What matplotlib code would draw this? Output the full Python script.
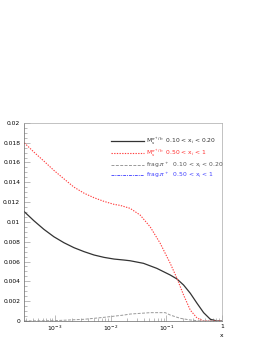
import numpy as np
import matplotlib
matplotlib.use("Agg")
import matplotlib.pyplot as plt
from matplotlib.ticker import LogLocator, MultipleLocator, NullFormatter, FuncFormatter

# curves (log10 x, value)
logx_black = [-3.55, -3.378, -3.198, -3.018, -2.838, -2.658, -2.477, -2.297, -2.117, -1.937,
              -1.757, -1.649, -1.409, -1.168, -0.928, -0.807, -0.688, -0.568, -0.447, -0.328,
              -0.207, -0.086, 0.0]
y_black = [0.01103, 0.01012, 0.00925, 0.0085, 0.0079, 0.0074, 0.0070, 0.00666, 0.00642, 0.00625,
           0.00615, 0.00608, 0.00582, 0.00531, 0.00464, 0.00424, 0.00363, 0.0028, 0.00179, 0.00084,
           0.00017, 0.0, 0.0]

logx_red = [-3.55, -3.378, -3.198, -3.018, -2.838, -2.658, -2.477, -2.297, -2.117, -1.937,
            -1.829, -1.649, -1.468, -1.288, -1.108, -0.928, -0.807, -0.688, -0.568, -0.447,
            -0.328, 0.0]
y_red = [0.01798, 0.01705, 0.01614, 0.0152, 0.01435, 0.01351, 0.0129, 0.01244, 0.01207, 0.01177,
         0.01167, 0.01137, 0.01069, 0.0095, 0.00784, 0.00582, 0.0043, 0.00262, 0.0011, 0.0003,
         0.0, 0.0]

logx_gray = [-3.55, -3.018, -2.477, -2.117, -1.757, -1.649, -1.288, -1.018, -0.928, -0.748,
             -0.568, -0.387, 0.0]
y_gray = [0.0, 0.00003, 0.00017, 0.00037, 0.0006, 0.0007, 0.00084, 0.00084, 0.0006, 0.00027,
          0.0001, 0.0, 0.0]

logx_blue = [-3.55, 0.0]
y_blue = [0.00002, 0.00002]

labels = [r"M$_s^{\pi^+/h}$  0.10 < x$_i$ < 0.20",
          r"M$_s^{\pi^+/h}$  0.50 < x$_i$ < 1",
          r"frag.$\pi^+$  0.10 < x$_i$ < 0.20",
          r"frag.$\pi^+$  0.50 < x$_i$ < 1"]

plt.rcParams['font.family'] = ['DejaVu Sans']
fig = plt.figure(figsize=(2.67, 3.46), dpi=100)
ax = fig.add_axes([0.091, 0.0723, 0.740, 0.5727])

fs = 4.3
ax.plot(10 ** np.array(logx_black), y_black, color='#333333', lw=0.9, ls='-', label=labels[0])
ax.plot(10 ** np.array(logx_red), y_red, color='#ff4040', lw=0.8, ls=(0, (1.2, 1.2)), label=labels[1])
ax.plot(10 ** np.array(logx_gray), y_gray, color='#999999', lw=0.7, ls=(0, (3, 1.5)), label=labels[2])
ax.plot(10 ** np.array(logx_blue), y_blue, color='#5555ff', lw=0.7, ls=(0, (3, 1, 1, 1)), label=labels[3])

ax.set_xscale('log')
ax.set_xlim(10 ** -3.55, 1)
ax.set_ylim(0, 0.02)
ax.yaxis.set_major_locator(MultipleLocator(0.002))
ax.yaxis.set_minor_locator(MultipleLocator(0.0005))
ax.xaxis.set_major_locator(LogLocator(base=10, numticks=10))
ax.xaxis.set_minor_locator(LogLocator(base=10, subs=np.arange(2, 10), numticks=20))
ax.xaxis.set_minor_formatter(NullFormatter())
ax.xaxis.set_major_formatter(FuncFormatter(
    lambda v, p: '1' if abs(v - 1) < 1e-9 else r'$10^{%d}$' % round(np.log10(v))))
ax.yaxis.set_major_formatter(FuncFormatter(lambda v, p: '0' if abs(v) < 1e-12 else '%g' % v))

ax.tick_params(which='both', direction='in', labelsize=fs, color='#888888', width=0.4)
ax.tick_params(which='major', length=4)
ax.tick_params(which='minor', length=2)
ax.tick_params(axis='x', pad=2)
ax.tick_params(axis='y', pad=3)
for s in ax.spines.values():
    s.set_linewidth(0.5)
    s.set_color('#aaaaaa')
ax.spines['left'].set_color('#666666')
ax.spines['bottom'].set_color('#666666')

ax.text(1.0, -0.06, 'x', transform=ax.transAxes, fontsize=fs, ha='center', va='top')

leg = ax.legend(loc='upper left', bbox_to_anchor=(0.41, 0.965), frameon=False, fontsize=fs,
                handlelength=5.5, handletextpad=0.4, labelspacing=0.12,
                labelcolor=['#333333', '#ff3030', '#555555', '#4040ff'])

fig.savefig('out.png', dpi=100)
